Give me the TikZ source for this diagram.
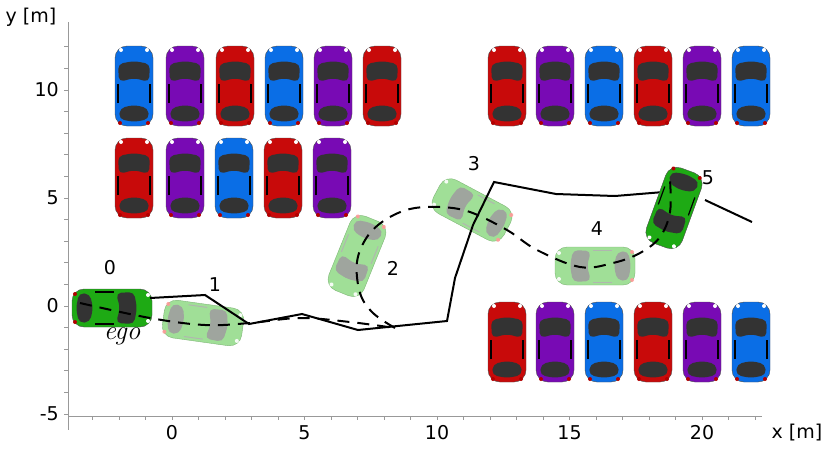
\documentclass[tikz,border=0pt]{standalone}
\usepackage{fontspec}
\setmainfont{DejaVu Sans}
\newfontfamily\egofont{Latin Modern Roman}
\usetikzlibrary{arrows.meta}
\definecolor{carred}{RGB}{200,10,10}
\definecolor{carblue}{RGB}{10,110,230}
\definecolor{carpurple}{RGB}{120,10,180}
\definecolor{cargreen}{RGB}{30,170,20}
\definecolor{ghostgreen}{RGB}{150,220,140}

\tikzset{
    pics/car/.style={code={
        \draw[fill=#1, draw=black!70, rounded corners=12pt] (-40,-19) rectangle (40,19);
        \fill[black!80, rounded corners=5pt] (4,-15) -- (22,-16) -- (25,0) -- (22,16) -- (4,15) -- (8,0) -- cycle;
        \fill[black!80, rounded corners=5pt] (-22,-14) -- (-33,-15) -- (-36,0) -- (-33,15) -- (-22,14) -- (-19,0) -- cycle;
        \draw[black, line width=1.2pt] (-17,-16) -- (2,-16) (-17,16) -- (2,16);
        \fill[white] (36,-13) circle (2) (36,13) circle (2);
        \fill[red!70!black] (-37,-14) circle (2) (-37,14) circle (2);
    }},
    pics/ghost/.style={code={
        \draw[fill=ghostgreen, draw=ghostgreen!80!black, rounded corners=12pt] (-40,-19) rectangle (40,19);
        \fill[gray!75, rounded corners=5pt] (4,-15) -- (22,-16) -- (25,0) -- (22,16) -- (4,15) -- (8,0) -- cycle;
        \fill[gray!75, rounded corners=5pt] (-22,-14) -- (-33,-15) -- (-36,0) -- (-33,15) -- (-22,14) -- (-19,0) -- cycle;
        \draw[gray!60, line width=1pt] (-17,-16) -- (2,-16) (-17,16) -- (2,16);
        \fill[white] (36,-13) circle (2) (36,13) circle (2);
        \fill[red!40] (-37,-14) circle (2) (-37,14) circle (2);
    }},
    axisline/.style={draw=gray!80, line width=1pt},
    tick/.style={draw=gray!80, line width=0.8pt},
    ticklbl/.style={font=\fontsize{19}{20}\selectfont, inner sep=1pt},
    steplbl/.style={font=\fontsize{19}{20}\selectfont, inner sep=1pt},
    path/.style={black, line width=2pt},
}

\begin{document}
\begin{tikzpicture}[x=1pt, y=-1pt]
\useasboundingbox (0,0) rectangle (830,448);

% axes
\draw[axisline] (68,22) -- (68,430);
\draw[axisline] (68,416) -- (762,416);
\foreach \v in {-5,...,12} \draw[tick] (68,{306-21.6*\v}) -- (64,{306-21.6*\v});
\foreach \u in {-3,...,22} \draw[tick] ({172+26.5*\u},416) -- ({172+26.5*\u},420);
\foreach \v/\t in {10/10,5/5,0/0,-5/-5} \node[ticklbl, anchor=east] at (60,{306-21.6*\v}) {\t};
\foreach \u in {0,5,10,15,20} \node[ticklbl, anchor=north] at ({172+26.5*\u},424) {\u};
\node[ticklbl] (ylbl) at (31,17) {y [m]};
\node[ticklbl] (xlbl) at (797,433) {x [m]};

% parked cars
\foreach \cx/\col [count=\i] in {134/carblue,185/carpurple,235/carred,284/carblue,333/carpurple,382/carred}
    \pic[rotate=90] (pa\i) at (\cx,86) {car=\col};
\foreach \cx/\col [count=\i] in {134/carred,185/carpurple,234/carblue,283/carred,332/carpurple}
    \pic[rotate=90] (pb\i) at (\cx,178) {car=\col};
\foreach \cx/\col [count=\i] in {507/carred,555/carpurple,604/carblue,653/carred,702/carpurple,751/carblue}
    \pic[rotate=90] (pc\i) at (\cx,86) {car=\col};
\foreach \cx/\col [count=\i] in {507/carred,555/carpurple,604/carblue,653/carred,702/carpurple,751/carblue}
    \pic[rotate=90] (pd\i) at (\cx,342) {car=\col};

% planned cars
\pic (ego) at (112,308) {car=cargreen};
\pic[rotate=-8, opacity=0.9] (c1) at (203,323) {ghost};
\pic[rotate=-112, opacity=0.9] (c2) at (357,256) {ghost};
\pic[rotate=152, opacity=0.9] (c3) at (472,210) {ghost};
\pic[rotate=180, opacity=0.9] (c4) at (595,266) {ghost};

% measured path
\draw[path] (150,298) -- (205,295) -- (249,324) -- (302,314) -- (358,330) -- (447,321)
    -- (455,278) -- (473,225) -- (494,182) -- (556,194) -- (615,196) -- (688,190);
\pic[rotate=-110] (c5) at (674,208) {car=cargreen};
\draw[path] (705,200) -- (752,222);

% planned path
\draw[path, dash pattern=on 12pt off 8pt] plot[smooth, tension=0.6] coordinates
    {(80,303) (150,318) (205,325) (250,323) (300,318) (350,322) (395,328)};
\draw[path, dash pattern=on 12pt off 8pt] plot[smooth, tension=0.6] coordinates
    {(395,328) (373,313) (360,293) (357,262) (367,237) (385,220) (410,209) (440,207) (470,212)
     (507,230) (537,250) (580,267) (613,263) (640,253) (660,237) (670,212) (670,180)};

% labels
\node[steplbl] (l0) at (110,268) {0};
\node[steplbl] (l1) at (215,285) {1};
\node[steplbl] (l2) at (393,268) {2};
\node[steplbl] (l3) at (474,164) {3};
\node[steplbl] (l4) at (597,229) {4};
\node[steplbl] (l5) at (708,178) {5};
\node[font=\egofont\itshape\fontsize{27}{28}\selectfont] (egolbl) at (122,336) {ego};
\end{tikzpicture}
\end{document}
